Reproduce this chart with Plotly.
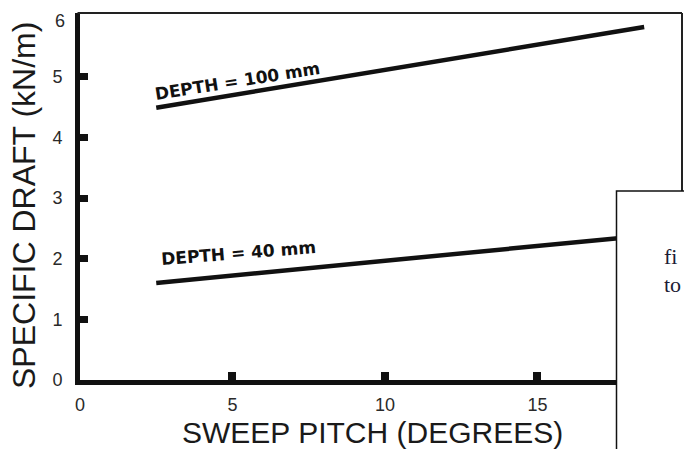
import plotly.graph_objects as go

# Data
pitch = [2.5, 18.5]              # sweep pitch (degrees)
draft_100mm = [4.49, 5.82]        # specific draft (kN/m), depth 100 mm
draft_40mm = [1.60, 2.38]         # specific draft (kN/m), depth 40 mm

x_ticks = [0, 5, 10, 15]
y_ticks = [0, 1, 2, 3, 4, 5, 6]

label_100 = "DEPTH = 100 mm"
label_40 = "DEPTH = 40 mm"
x_title = "SWEEP PITCH (DEGREES)"
y_title = "SPECIFIC DRAFT (kN/m)"

W, H = 684, 449
L, R, T, B = 80, 2, 17, 69
plot_w = W - L - R
plot_h = H - T - B

def px_to_paper_x(px):
    return (px - L) / plot_w

def px_to_paper_y(py):
    return (H - B - py) / plot_h

fig = go.Figure()
fig.add_trace(go.Scatter(x=pitch, y=draft_100mm, mode="lines",
                         line=dict(color="#111111", width=4.5), showlegend=False))
fig.add_trace(go.Scatter(x=pitch, y=draft_40mm, mode="lines",
                         line=dict(color="#111111", width=4.5), showlegend=False))

tick_font = dict(family="Liberation Sans, Arial, sans-serif", size=18, color="#2a2a2a")
title_family = "Liberation Sans, Arial, sans-serif"

fig.update_layout(
    width=W, height=H,
    margin=dict(l=L, r=R, t=T, b=B, pad=0),
    paper_bgcolor="white", plot_bgcolor="white",
    showlegend=False,
    xaxis=dict(range=[0, 19.74], tickvals=x_ticks, ticktext=[str(v) for v in x_ticks],
               showgrid=False, zeroline=False, showline=True, linecolor="#111111", linewidth=5,
               ticks="inside", ticklen=8, tickwidth=8, tickcolor="#111111",
               tickfont=tick_font, ticklabelstandoff=4),
    yaxis=dict(range=[0, 5.985], tickvals=y_ticks, ticktext=[str(v) for v in y_ticks],
               showgrid=False, zeroline=False, showline=True, linecolor="#111111", linewidth=5,
               ticks="inside", ticklen=8, tickwidth=7, tickcolor="#111111",
               tickfont=tick_font, ticklabelstandoff=9),
)

# top tick label (the top of the frame sits just above it, without a tick mark)
fig.add_annotation(xref="paper", yref="paper", x=px_to_paper_x(60), y=px_to_paper_y(21),
                   text=str(y_ticks[-1]), showarrow=False, xanchor="center", yanchor="middle",
                   borderpad=0, font=tick_font)

# axis titles
fig.add_annotation(xref="paper", yref="paper", x=px_to_paper_x(372), y=px_to_paper_y(432),
                   text=x_title, showarrow=False, xanchor="center", yanchor="middle",
                   borderpad=0,
                   font=dict(family=title_family, size=30, color="#1a1a1a"))
fig.add_annotation(xref="paper", yref="paper", x=px_to_paper_x(24), y=px_to_paper_y(206),
                   text=y_title, showarrow=False, xanchor="center", yanchor="middle",
                   textangle=-90, borderpad=0,
                   font=dict(family=title_family, size=32, color="#1a1a1a"))

# frame: extend left axis to the top, thin lines on top and right
top = px_to_paper_y(13)
left = px_to_paper_x(77.5)
fig.add_shape(type="line", xref="paper", yref="paper", x0=left, x1=left, y0=0.97, y1=top,
              line=dict(color="#111111", width=5))
fig.add_shape(type="line", xref="paper", yref="paper", x0=left, x1=1, y0=top, y1=top,
              line=dict(color="#222222", width=2))
fig.add_shape(type="line", xref="paper", yref="paper", x0=1, x1=1, y0=0, y1=top,
              line=dict(color="#222222", width=2))

# curve labels
label_font = dict(family="DejaVu Sans, Verdana, sans-serif", size=17, color="#111111",
                  weight="bold")
fig.add_annotation(x=5.15, y=4.93, text=label_100, showarrow=False, textangle=-9,
                   font=label_font)
fig.add_annotation(x=5.21, y=2.10, text=label_40, showarrow=False, textangle=-4.5,
                   font=label_font)

# overlapping white box from the page layout
fig.add_shape(type="rect", xref="paper", yref="paper",
              x0=px_to_paper_x(616.5), x1=px_to_paper_x(760),
              y0=px_to_paper_y(520), y1=px_to_paper_y(191),
              fillcolor="white", line=dict(color="#111111", width=1.5), layer="above")
serif = dict(family="Liberation Serif, Times New Roman, serif", size=22, color="#1c1c34")
fig.add_annotation(xref="paper", yref="paper", x=px_to_paper_x(662), y=px_to_paper_y(256),
                   text="fi", showarrow=False, xanchor="left", yanchor="middle", font=serif)
fig.add_annotation(xref="paper", yref="paper", x=px_to_paper_x(662), y=px_to_paper_y(284),
                   text="to", showarrow=False, xanchor="left", yanchor="middle", font=serif)

fig.write_html("out.html")
